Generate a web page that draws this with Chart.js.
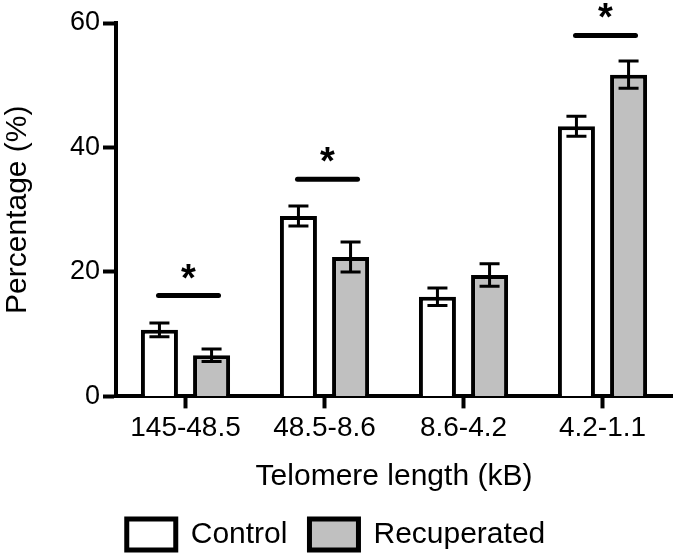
<!DOCTYPE html>
<html>
<head>
    <title>Telomere length</title>
    <script src="https://cdn.jsdelivr.net/npm/chart.js@4.4.0/dist/chart.umd.min.js"></script>
    <style>
        body { margin: 0; background: #fff; }
        #wrap { width: 675px; height: 554px; }
    </style>
</head>
<body>
    <div id="wrap"><canvas id="chart" width="675" height="554"></canvas></div>

    <script>
        // Values
        const categories = ['145-48.5', '48.5-8.6', '8.6-4.2', '4.2-1.1'];
        const controlValues = [10.7, 29.0, 16.0, 43.4];
        const controlErrors = [1.1, 1.6, 1.4, 1.6];
        const recupValues = [6.6, 22.4, 19.5, 51.7];
        const recupErrors = [1.0, 2.4, 1.8, 2.2];
        const yTicks = [0, 20, 40, 60];
        // significance bars: category index and height (in %)
        const sigIndex = [0, 1, 3];
        const sigLevels = [16.2, 34.9, 58.0];

        Chart.defaults.font.family = "'Liberation Sans', Arial, sans-serif";
        Chart.defaults.color = '#000';

        const errorBars = {
            id: 'errorBars',
            afterDatasetsDraw(chart) {
                const ctx = chart.ctx;
                const y = chart.scales.y;
                const errs = [controlErrors, recupErrors];
                ctx.save();
                ctx.strokeStyle = '#000';
                ctx.lineWidth = 3;
                chart.data.datasets.forEach((ds, di) => {
                    chart.getDatasetMeta(di).data.forEach((bar, i) => {
                        const top = y.getPixelForValue(ds.data[i] + errs[di][i]);
                        const bot = y.getPixelForValue(ds.data[i] - errs[di][i]);
                        ctx.beginPath();
                        ctx.moveTo(bar.x, top); ctx.lineTo(bar.x, bot);
                        ctx.moveTo(bar.x - 10, top); ctx.lineTo(bar.x + 10, top);
                        ctx.moveTo(bar.x - 10, bot); ctx.lineTo(bar.x + 10, bot);
                        ctx.stroke();
                    });
                });
                ctx.restore();
            }
        };

        const sigBars = {
            id: 'sigBars',
            afterDatasetsDraw(chart) {
                const ctx = chart.ctx;
                const x = chart.scales.x, y = chart.scales.y;
                ctx.save();
                ctx.strokeStyle = '#000';
                ctx.fillStyle = '#000';
                ctx.lineWidth = 5;
                ctx.lineCap = 'round';
                ctx.font = "bold 38px 'Liberation Sans', Arial, sans-serif";
                ctx.textAlign = 'center';
                ctx.textBaseline = 'alphabetic';
                sigIndex.forEach((ci, k) => {
                    const cx = x.getPixelForValue(ci) + 3;
                    const ly = y.getPixelForValue(sigLevels[k]);
                    ctx.beginPath();
                    ctx.moveTo(cx - 30, ly); ctx.lineTo(cx + 30, ly);
                    ctx.stroke();
                    ctx.fillText('*', cx, ly - 5);
                });
                ctx.restore();
            }
        };

        new Chart(document.getElementById('chart'), {
            type: 'bar',
            data: {
                labels: categories,
                datasets: [{
                    label: 'Control',
                    data: controlValues,
                    backgroundColor: '#ffffff',
                    borderColor: '#000',
                    borderWidth: 4,
                    borderSkipped: 'bottom'
                }, {
                    label: 'Recuperated',
                    data: recupValues,
                    backgroundColor: '#c0c0c0',
                    borderColor: '#000',
                    borderWidth: 4,
                    borderSkipped: 'bottom'
                }]
            },
            options: {
                responsive: false,
                animation: false,
                categoryPercentage: 0.75,
                barPercentage: 0.71,
                layout: { padding: { top: 23, right: 3, left: 0, bottom: -6 } },
                plugins: {
                    tooltip: { enabled: false },
                    legend: {
                        position: 'bottom',
                        labels: {
                            boxWidth: 49,
                            boxHeight: 31,
                            padding: 22,
                            color: '#000',
                            font: { size: 30 },
                            generateLabels: chart => Chart.defaults.plugins.legend.labels.generateLabels(chart)
                                .map(l => Object.assign(l, { lineWidth: 5 }))
                        }
                    }
                },
                scales: {
                    x: {
                        grid: { drawOnChartArea: false, offset: false, tickLength: 12, tickWidth: 4, tickColor: '#000' },
                        border: { color: '#000', width: 4 },
                        ticks: { color: '#000', font: { size: 28 }, padding: 3, maxRotation: 0 },
                        title: { display: true, text: 'Telomere length (kB)', color: '#000', font: { size: 30 }, padding: { top: 11, bottom: 2 } }
                    },
                    y: {
                        min: 0,
                        max: 60,
                        afterBuildTicks: s => { s.ticks = yTicks.map(v => ({ value: v })); },
                        afterFit: s => { s.width = 116; },
                        grid: { drawOnChartArea: false, tickLength: 13, tickWidth: 4, tickColor: '#000' },
                        border: { color: '#000', width: 4 },
                        ticks: { color: '#000', font: { size: 27 }, padding: 3 },
                        title: { display: true, text: 'Percentage (%)', color: '#000', font: { size: 30 }, padding: 0 }
                    }
                }
            },
            plugins: [errorBars, sigBars]
        });
    </script>
</body>
</html>
